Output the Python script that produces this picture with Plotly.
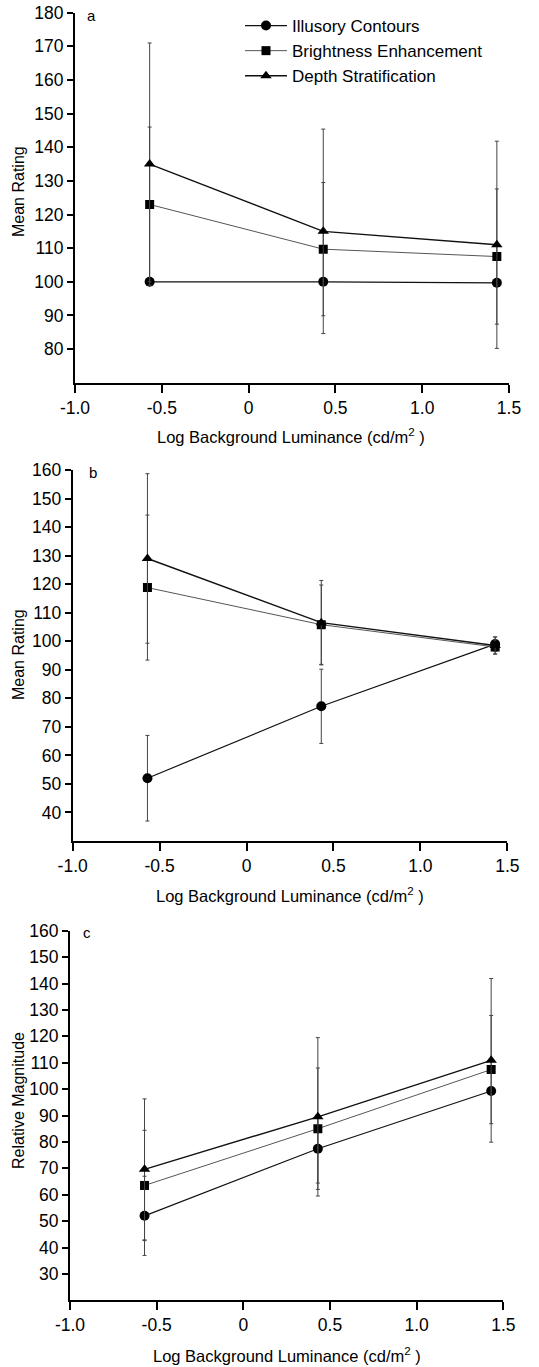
import plotly.graph_objects as go

W, H = 539, 1367

x_vals = [-0.57, 0.43, 1.43]
series_names = ["Illusory Contours", "Brightness Enhancement", "Depth Stratification"]

# Panel a
a_illusory = [100, 100, 99.7]
a_illusory_err = [0, 0, 0]
a_bright = [123, 109.7, 107.5]
a_bright_err = [23, 19.8, 20.1]
a_depth = [135, 115, 111]
a_depth_err = [36, 30.4, 30.8]

# Panel b
b_illusory = [52, 77.2, 99]
b_illusory_err = [15, 13, 2.5]
b_bright = [118.8, 105.8, 98]
b_bright_err = [25.4, 13.9, 2.5]
b_depth = [129, 106.5, 98.5]
b_depth_err = [29.7, 14.8, 3]

# Panel c
c_illusory = [52, 77.4, 99.3]
c_illusory_err = [15, 13, 0]
c_bright = [63.5, 85, 107.4]
c_bright_err = [20.9, 23, 20.5]
c_depth = [69.6, 89.5, 110.9]
c_depth_err = [26.7, 30, 31]

x_tickvals = [-1.0, -0.5, 0, 0.5, 1.0, 1.5]
x_ticktext = ["-1.0", "-0.5", "0", "0.5", "1.0", "1.5"]

panels = [
    dict(ill=a_illusory, ille=a_illusory_err, br=a_bright, bre=a_bright_err, de=a_depth, dee=a_depth_err,
         yr=[70, 180], yt=list(range(80, 181, 10)), ytitle="Mean Rating", letter="a"),
    dict(ill=b_illusory, ille=b_illusory_err, br=b_bright, bre=b_bright_err, de=b_depth, dee=b_depth_err,
         yr=[30, 160], yt=list(range(40, 161, 10)), ytitle="Mean Rating", letter="b"),
    dict(ill=c_illusory, ille=c_illusory_err, br=c_bright, bre=c_bright_err, de=c_depth, dee=c_depth_err,
         yr=[20, 160], yt=list(range(30, 161, 10)), ytitle="Relative Magnitude", letter="c"),
]

# pixel geometry (left, right, top, bottom)
geo = [
    (75, 509, 12.7, 382.7),
    (72.7, 507.3, 470, 841),
    (70, 503.3, 930.7, 1300.3),
]
xtitle_pos = [(291, 436), (290, 895), (287, 1355)]
ytitle_pos = [(18, 192), (18, 655), (18, 1101)]
letter_pos = [(91, 16), (92.5, 472), (87, 932)]

FONT = "Liberation Sans, Arial, sans-serif"
fig = go.Figure()

styles = [
    ("ill", "ille", "circle", 10, "#111111", 1.2),
    ("br", "bre", "square", 9, "#555555", 1.0),
    ("de", "dee", "triangle-up", 10, "#111111", 1.4),
]

for i, p in enumerate(panels):
    xa = "x" if i == 0 else f"x{i+1}"
    ya = "y" if i == 0 else f"y{i+1}"
    for k, (key, ekey, sym, sz, col, lw) in enumerate(styles):
        fig.add_trace(go.Scatter(
            x=x_vals, y=p[key], xaxis=xa, yaxis=ya,
            mode="lines+markers",
            name=series_names[k],
            showlegend=(i == 0),
            line=dict(color=col, width=lw),
            marker=dict(symbol=sym, size=sz, color="black"),
            error_y=dict(type="data", array=p[ekey], visible=True, color="#444444", thickness=1, width=2),
        ))

annotations = []
for i, p in enumerate(panels):
    l, r, t, b = geo[i]
    sfx = "" if i == 0 else str(i + 1)
    fig.layout["xaxis" + sfx] = dict(
        domain=[l / W, r / W], range=[-1, 1.5], anchor="y" + sfx, automargin=False,
        tickvals=x_tickvals, ticktext=x_ticktext,
        showline=True, linecolor="black", linewidth=2, ticks="outside", ticklen=8, tickwidth=2,
        tickcolor="black", showgrid=False, zeroline=False,
        tickfont=dict(family=FONT, size=17.5, color="black"), fixedrange=True,
    )
    fig.layout["yaxis" + sfx] = dict(
        domain=[1 - b / H, 1 - t / H], range=p["yr"], anchor="x" + sfx, automargin=False,
        tickvals=p["yt"], showline=True, linecolor="black", linewidth=2,
        ticks="outside", ticklen=6, tickwidth=2, tickcolor="black",
        showgrid=False, zeroline=False,
        tickfont=dict(family=FONT, size=17.5, color="black"), fixedrange=True,
    )
    xt = xtitle_pos[i]
    annotations.append(dict(text="Log Background Luminance (cd/m<sup>2</sup> )", x=xt[0] / W, y=1 - xt[1] / H,
                            xref="paper", yref="paper", showarrow=False, xanchor="center", yanchor="middle",
                            font=dict(family=FONT, size=16.5, color="black")))
    yt = ytitle_pos[i]
    annotations.append(dict(text=p["ytitle"], x=yt[0] / W, y=1 - yt[1] / H, textangle=-90,
                            xref="paper", yref="paper", showarrow=False, xanchor="center", yanchor="middle",
                            font=dict(family=FONT, size=16, color="black")))
    lp = letter_pos[i]
    annotations.append(dict(text=p["letter"], x=lp[0] / W, y=1 - lp[1] / H,
                            xref="paper", yref="paper", showarrow=False, xanchor="center", yanchor="middle",
                            font=dict(family=FONT, size=15, color="black")))

fig.update_layout(
    template="none",
    width=W, height=H,
    margin=dict(l=0, r=0, t=0, b=0, autoexpand=False),
    paper_bgcolor="white", plot_bgcolor="white",
    annotations=annotations,
    showlegend=True,
    legend=dict(x=240 / W, y=1 - 8 / H, xanchor="left", yanchor="top",
                font=dict(family=FONT, size=17, color="black"), itemwidth=42,
                bgcolor="rgba(0,0,0,0)", borderwidth=0),
)

fig.write_html("out.html")
